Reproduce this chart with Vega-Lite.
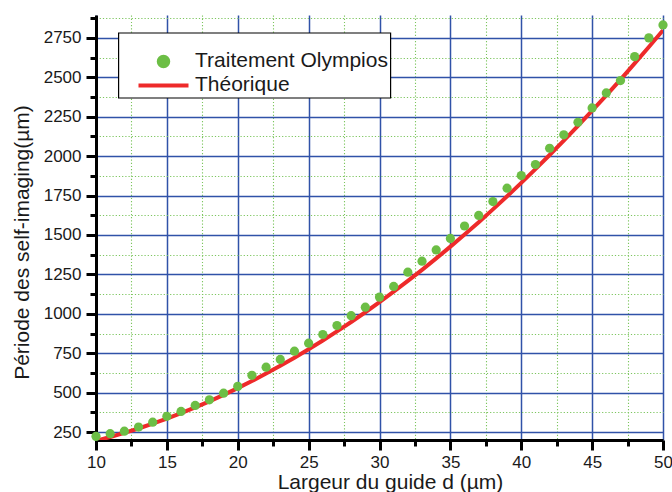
{
  "$schema": "https://vega.github.io/schema/vega-lite/v6.json",
  "width": 567,
  "height": 425,
  "autosize": {"type": "none"},
  "padding": {"left": 96, "top": 15, "right": 9, "bottom": 52},
  "background": "white",
  "config": {"view": {"stroke": null}, "font": "Liberation Sans"},
  "datasets": {
    "mesures": [
      {"d": 10, "periode": 223, "serie": "Traitement Olympios"},
      {"d": 11, "periode": 240, "serie": "Traitement Olympios"},
      {"d": 12, "periode": 256, "serie": "Traitement Olympios"},
      {"d": 13, "periode": 282, "serie": "Traitement Olympios"},
      {"d": 14, "periode": 313, "serie": "Traitement Olympios"},
      {"d": 15, "periode": 350, "serie": "Traitement Olympios"},
      {"d": 16, "periode": 381, "serie": "Traitement Olympios"},
      {"d": 17, "periode": 419, "serie": "Traitement Olympios"},
      {"d": 18, "periode": 455, "serie": "Traitement Olympios"},
      {"d": 19, "periode": 497, "serie": "Traitement Olympios"},
      {"d": 20, "periode": 540, "serie": "Traitement Olympios"},
      {"d": 21, "periode": 610, "serie": "Traitement Olympios"},
      {"d": 22, "periode": 662, "serie": "Traitement Olympios"},
      {"d": 23, "periode": 711, "serie": "Traitement Olympios"},
      {"d": 24, "periode": 763, "serie": "Traitement Olympios"},
      {"d": 25, "periode": 814, "serie": "Traitement Olympios"},
      {"d": 26, "periode": 869, "serie": "Traitement Olympios"},
      {"d": 27, "periode": 926, "serie": "Traitement Olympios"},
      {"d": 28, "periode": 988, "serie": "Traitement Olympios"},
      {"d": 29, "periode": 1042, "serie": "Traitement Olympios"},
      {"d": 30, "periode": 1106, "serie": "Traitement Olympios"},
      {"d": 31, "periode": 1174, "serie": "Traitement Olympios"},
      {"d": 32, "periode": 1264, "serie": "Traitement Olympios"},
      {"d": 33, "periode": 1334, "serie": "Traitement Olympios"},
      {"d": 34, "periode": 1405, "serie": "Traitement Olympios"},
      {"d": 35, "periode": 1478, "serie": "Traitement Olympios"},
      {"d": 36, "periode": 1557, "serie": "Traitement Olympios"},
      {"d": 37, "periode": 1624, "serie": "Traitement Olympios"},
      {"d": 38, "periode": 1712, "serie": "Traitement Olympios"},
      {"d": 39, "periode": 1797, "serie": "Traitement Olympios"},
      {"d": 40, "periode": 1877, "serie": "Traitement Olympios"},
      {"d": 41, "periode": 1947, "serie": "Traitement Olympios"},
      {"d": 42, "periode": 2050, "serie": "Traitement Olympios"},
      {"d": 43, "periode": 2135, "serie": "Traitement Olympios"},
      {"d": 44, "periode": 2215, "serie": "Traitement Olympios"},
      {"d": 45, "periode": 2306, "serie": "Traitement Olympios"},
      {"d": 46, "periode": 2401, "serie": "Traitement Olympios"},
      {"d": 47, "periode": 2479, "serie": "Traitement Olympios"},
      {"d": 48, "periode": 2631, "serie": "Traitement Olympios"},
      {"d": 49, "periode": 2750, "serie": "Traitement Olympios"},
      {"d": 50, "periode": 2832, "serie": "Traitement Olympios"}
    ],
    "theorie": [
      {"d": 10, "periode": 195.0, "serie": "Théorique"},
      {"d": 11, "periode": 218.9, "serie": "Théorique"},
      {"d": 12, "periode": 244.9, "serie": "Théorique"},
      {"d": 13, "periode": 273.0, "serie": "Théorique"},
      {"d": 14, "periode": 303.3, "serie": "Théorique"},
      {"d": 15, "periode": 335.6, "serie": "Théorique"},
      {"d": 16, "periode": 370.1, "serie": "Théorique"},
      {"d": 17, "periode": 406.6, "serie": "Théorique"},
      {"d": 18, "periode": 445.3, "serie": "Théorique"},
      {"d": 19, "periode": 486.1, "serie": "Théorique"},
      {"d": 20, "periode": 529.0, "serie": "Théorique"},
      {"d": 21, "periode": 574.0, "serie": "Théorique"},
      {"d": 22, "periode": 621.1, "serie": "Théorique"},
      {"d": 23, "periode": 670.4, "serie": "Théorique"},
      {"d": 24, "periode": 721.7, "serie": "Théorique"},
      {"d": 25, "periode": 775.2, "serie": "Théorique"},
      {"d": 26, "periode": 830.8, "serie": "Théorique"},
      {"d": 27, "periode": 888.5, "serie": "Théorique"},
      {"d": 28, "periode": 948.3, "serie": "Théorique"},
      {"d": 29, "periode": 1010.2, "serie": "Théorique"},
      {"d": 30, "periode": 1074.2, "serie": "Théorique"},
      {"d": 31, "periode": 1140.3, "serie": "Théorique"},
      {"d": 32, "periode": 1208.6, "serie": "Théorique"},
      {"d": 33, "periode": 1278.9, "serie": "Théorique"},
      {"d": 34, "periode": 1351.4, "serie": "Théorique"},
      {"d": 35, "periode": 1426.0, "serie": "Théorique"},
      {"d": 36, "periode": 1502.7, "serie": "Théorique"},
      {"d": 37, "periode": 1581.5, "serie": "Théorique"},
      {"d": 38, "periode": 1662.4, "serie": "Théorique"},
      {"d": 39, "periode": 1745.5, "serie": "Théorique"},
      {"d": 40, "periode": 1830.6, "serie": "Théorique"},
      {"d": 41, "periode": 1917.9, "serie": "Théorique"},
      {"d": 42, "periode": 2007.2, "serie": "Théorique"},
      {"d": 43, "periode": 2098.7, "serie": "Théorique"},
      {"d": 44, "periode": 2192.3, "serie": "Théorique"},
      {"d": 45, "periode": 2288.0, "serie": "Théorique"},
      {"d": 46, "periode": 2385.8, "serie": "Théorique"},
      {"d": 47, "periode": 2485.7, "serie": "Théorique"},
      {"d": 48, "periode": 2587.8, "serie": "Théorique"},
      {"d": 49, "periode": 2691.9, "serie": "Théorique"},
      {"d": 50, "periode": 2798.2, "serie": "Théorique"}
    ]
  },
  "layer": [
    {
      "data": {"name": "theorie"},
      "mark": {"type": "line", "strokeWidth": 4, "clip": true},
      "encoding": {
        "x": {
          "field": "d", "type": "quantitative",
          "scale": {"domain": [10, 50], "nice": false, "zero": false},
          "axis": {
            "orient": "bottom", "tickCount": 100, "format": "d",
            "values": [10, 12.5, 15, 17.5, 20, 22.5, 25, 27.5, 30, 32.5, 35, 37.5, 40, 42.5, 45, 47.5, 50],
            "labelExpr": "datum.value % 5 === 0 ? datum.label : ''",
            "title": "Largeur du guide d (µm)", "titleFontSize": 21, "titleFont": "Liberation Sans",
            "titleFontWeight": "normal", "titleColor": "#1a1a1a", "titleX": 294, "titleY": 48,
            "titleBaseline": "alphabetic", "titleAlign": "center",
            "labelFontSize": 17, "labelFont": "Liberation Sans", "labelColor": "#1a1a1a", "labelPadding": 4,
            "labelFlush": false, "labelOverlap": false,
            "tickSize": {"condition": {"test": "datum.value % 5 === 0", "value": 10}, "value": 6},
            "tickWidth": 3, "tickColor": "black",
            "domainColor": "black", "domainWidth": 3,
            "grid": true,
            "gridColor": {"condition": {"test": "datum.value % 5 === 0", "value": "#3052a8"}, "value": "#7cc55e"},
            "gridDash": {"condition": {"test": "datum.value % 5 === 0", "value": []}, "value": [1.2, 2]},
            "gridWidth": {"condition": {"test": "datum.value % 5 === 0", "value": 1.5}, "value": 1.1}
          }
        },
        "y": {
          "field": "periode", "type": "quantitative",
          "scale": {"domain": [200, 2895], "nice": false, "zero": false},
          "axis": {
            "orient": "left", "tickCount": 100, "format": "d",
            "values": [250, 375, 500, 625, 750, 875, 1000, 1125, 1250, 1375, 1500, 1625, 1750, 1875, 2000, 2125, 2250, 2375, 2500, 2625, 2750, 2875],
            "labelExpr": "datum.value % 250 === 0 ? datum.label : ''",
            "title": "Période des self-imaging(µm)", "titleFontSize": 21, "titleFont": "Liberation Sans",
            "titleFontWeight": "normal", "titleColor": "#1a1a1a", "titleX": -67.7, "titleY": 227,
            "titleBaseline": "alphabetic", "titleAlign": "center", "titleAngle": -90,
            "labelFontSize": 17, "labelFont": "Liberation Sans", "labelColor": "#1a1a1a", "labelPadding": 5,
            "labelFlush": false, "labelOverlap": false,
            "tickSize": {"condition": {"test": "datum.value % 250 === 0", "value": 10}, "value": 6},
            "tickWidth": 3, "tickColor": "black",
            "domainColor": "black", "domainWidth": 3,
            "grid": true,
            "gridColor": {"condition": {"test": "datum.value % 250 === 0", "value": "#3052a8"}, "value": "#7cc55e"},
            "gridDash": {"condition": {"test": "datum.value % 250 === 0", "value": []}, "value": [1.2, 2]},
            "gridWidth": {"condition": {"test": "datum.value % 250 === 0", "value": 1.5}, "value": 1.1}
          }
        },
        "color": {
          "field": "serie", "type": "nominal",
          "scale": {"domain": ["Traitement Olympios", "Théorique"], "range": ["#6cbe45", "#ee2a2a"]},
          "legend": {
            "title": " ", "titleFontSize": 14.2, "titlePadding": 2,
            "orient": "none", "legendX": 22.3, "legendY": 17.7, "direction": "vertical",
            "padding": 2, "strokeColor": "black", "fillColor": "white",
            "labelFontSize": 21, "labelFont": "Liberation Sans", "labelColor": "#1a1a1a", "labelLimit": 0,
            "symbolSize": 100, "symbolOffset": 32.7, "labelOffset": 21, "rowPadding": -1,
            "symbolType": "circle",
            "encode": {
              "legend": {"update": {"strokeWidth": {"value": 1.2}}},
              "symbols": {"update": {
                "shape": {"signal": "datum.value === 'Théorique' ? 'stroke' : 'circle'"},
                "size": {"signal": "datum.value === 'Théorique' ? 2500 : 90"},
                "fill": {"signal": "datum.value === 'Théorique' ? 'transparent' : '#6cbe45'"},
                "stroke": {"signal": "datum.value === 'Théorique' ? '#ee2a2a' : 'transparent'"},
                "strokeWidth": {"value": 4},
                "opacity": {"value": 1}
              }}
            }
          }
        }
      }
    },
    {
      "data": {"name": "mesures"},
      "mark": {"type": "point", "filled": true, "size": 85, "opacity": 1},
      "encoding": {
        "x": {"field": "d", "type": "quantitative"},
        "y": {"field": "periode", "type": "quantitative"},
        "color": {
          "field": "serie", "type": "nominal",
          "scale": {"domain": ["Traitement Olympios", "Théorique"], "range": ["#6cbe45", "#ee2a2a"]},
          "legend": {
            "title": " ", "titleFontSize": 14.2, "titlePadding": 2,
            "orient": "none", "legendX": 22.3, "legendY": 17.7, "direction": "vertical",
            "padding": 2, "strokeColor": "black", "fillColor": "white",
            "labelFontSize": 21, "labelFont": "Liberation Sans", "labelColor": "#1a1a1a", "labelLimit": 0,
            "symbolSize": 100, "symbolOffset": 32.7, "labelOffset": 21, "rowPadding": -1,
            "symbolType": "circle",
            "encode": {
              "legend": {"update": {"strokeWidth": {"value": 1.2}}},
              "symbols": {"update": {
                "shape": {"signal": "datum.value === 'Théorique' ? 'stroke' : 'circle'"},
                "size": {"signal": "datum.value === 'Théorique' ? 2500 : 90"},
                "fill": {"signal": "datum.value === 'Théorique' ? 'transparent' : '#6cbe45'"},
                "stroke": {"signal": "datum.value === 'Théorique' ? '#ee2a2a' : 'transparent'"},
                "strokeWidth": {"value": 4},
                "opacity": {"value": 1}
              }}
            }
          }
        }
      }
    }
  ]
}
